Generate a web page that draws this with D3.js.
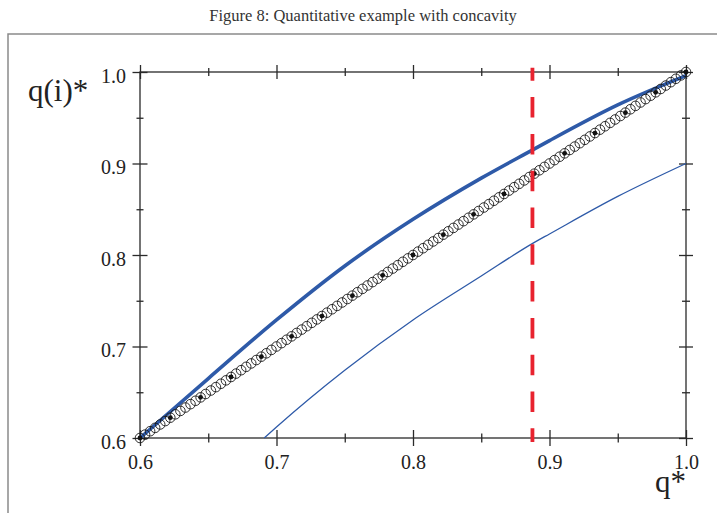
<!DOCTYPE html>
<html>
<head>
<meta charset="utf-8">
<script src="https://cdn.jsdelivr.net/npm/d3@7"></script>
<style>
html,body{margin:0;padding:0;background:#fff;}
svg{display:block;}
</style>
</head>
<body>
<script>
// ---- data ----
const titleText = "Figure 8: Quantitative example with concavity";
const xLabel = "q*";
const yLabel = "q(i)*";
const majorTicks = [0.6, 0.7, 0.8, 0.9, 1.0];
const minorTicks = [0.65, 0.75, 0.85, 0.95];
const tickLabels = ["0.6", "0.7", "0.8", "0.9", "1.0"];

// thick blue curve
const thickQ = [0.600, 0.650, 0.700, 0.750, 0.800, 0.850, 0.889, 0.900, 0.950, 1.000];
const thickV = [0.600, 0.665, 0.729, 0.788, 0.839, 0.884, 0.916, 0.925, 0.964, 0.996];

// thin blue curve
const thinQ = [0.691, 0.700, 0.750, 0.800, 0.850, 0.888, 0.900, 0.950, 1.000];
const thinV = [0.600, 0.612, 0.674, 0.729, 0.777, 0.813, 0.823, 0.864, 0.900];

// open circles (on the diagonal q(i)* = q*)
const circleQ = [
0.6000,0.6037,0.6074,0.6111,0.6148,0.6185,0.6222,0.6259,0.6296,0.6333,0.6370,0.6407,0.6444,0.6481,0.6519,0.6556,0.6593,0.6630,0.6667,0.6704,0.6741,0.6778,0.6815,0.6852,0.6889,0.6926,0.6963,
0.7000,0.7037,0.7074,0.7111,0.7148,0.7185,0.7222,0.7259,0.7296,0.7333,0.7370,0.7407,0.7444,0.7481,0.7519,0.7556,0.7593,0.7630,0.7667,0.7704,0.7741,0.7778,0.7815,0.7852,0.7889,0.7926,0.7963,
0.8000,0.8037,0.8074,0.8111,0.8148,0.8185,0.8222,0.8259,0.8296,0.8333,0.8370,0.8407,0.8444,0.8481,0.8519,0.8556,0.8593,0.8630,0.8667,0.8704,0.8741,0.8778,0.8815,0.8852,0.8889,0.8926,0.8963,
0.9000,0.9037,0.9074,0.9111,0.9148,0.9185,0.9222,0.9259,0.9296,0.9333,0.9370,0.9407,0.9444,0.9481,0.9519,0.9556,0.9593,0.9630,0.9667,0.9704,0.9741,0.9778,0.9815,0.9852,0.9889,0.9926,0.9963,
1.0000];
const circleV = circleQ.slice();

// filled dots
const dotQ = [0.6000,0.6222,0.6444,0.6667,0.6889,0.7111,0.7333,0.7556,0.7778,0.8000,0.8222,0.8444,0.8667,0.8889,0.9111,0.9333,0.9556,0.9778,1.0000];
const dotV = dotQ.slice();

// vertical dashed red line
const dashQ = [0.8875];
const dashV = [0.5955, 1.0046];

// ---- drawing ----
const W = 717, H = 513;
const svg = d3.select("body").append("svg").attr("width", W).attr("height", H);

// outer frame
svg.append("path")
  .attr("d", "M8,513 L8,34 L717,34")
  .attr("fill", "none").attr("stroke", "#8a8a8a").attr("stroke-width", 1.5);

svg.append("text")
  .attr("x", 363).attr("y", 21)
  .attr("text-anchor", "middle")
  .attr("font-family", "Liberation Serif, serif")
  .attr("font-size", 16.5)
  .attr("fill", "#333")
  .text(titleText);

const x = d3.scaleLinear().domain([0.6, 1.0]).range([140, 686]);
const y = d3.scaleLinear().domain([0.6, 1.0]).range([438, 72]);

const axisColor = "#2a2a2a";
const fmt = (d) => tickLabels[majorTicks.findIndex(t => Math.abs(t - d) < 1e-9)] || "";

function styleAxis(g, half, horizontal) {
  g.select(".domain").remove();
  g.selectAll(".tick line")
    .attr("stroke", axisColor).attr("stroke-width", 1.3)
    .each(function() {
      const l = d3.select(this);
      if (horizontal) l.attr("y1", -half).attr("y2", half);
      else l.attr("x1", -half).attr("x2", half);
    });
  g.selectAll(".tick text")
    .attr("font-family", "Liberation Serif, serif")
    .attr("font-size", 20)
    .attr("fill", "#222");
}

// frame rect of the plot
svg.append("rect")
  .attr("x", x(0.6)).attr("y", y(1.0))
  .attr("width", x(1.0) - x(0.6)).attr("height", y(0.6) - y(1.0))
  .attr("fill", "none").attr("stroke", axisColor).attr("stroke-width", 1.3);

// bottom axis (labels)
const gB = svg.append("g").attr("transform", `translate(0,${y(0.6)})`)
  .call(d3.axisBottom(x).tickValues(majorTicks).tickFormat(fmt).tickSize(8).tickPadding(0));
styleAxis(gB, 8, true);
gB.selectAll(".tick text").attr("dy", null).attr("y", 31);
const gBm = svg.append("g").attr("transform", `translate(0,${y(0.6)})`)
  .call(d3.axisBottom(x).tickValues(minorTicks).tickFormat("").tickSize(4));
styleAxis(gBm, 4.5, true);

// top axis
const gT = svg.append("g").attr("transform", `translate(0,${y(1.0)})`)
  .call(d3.axisTop(x).tickValues(majorTicks).tickFormat("").tickSize(7));
styleAxis(gT, 7, true);
const gTm = svg.append("g").attr("transform", `translate(0,${y(1.0)})`)
  .call(d3.axisTop(x).tickValues(minorTicks).tickFormat("").tickSize(4));
styleAxis(gTm, 4, true);

// left axis (labels)
const gL = svg.append("g").attr("transform", `translate(${x(0.6)},0)`)
  .call(d3.axisLeft(y).tickValues(majorTicks).tickFormat(fmt).tickSize(7).tickPadding(0));
styleAxis(gL, 7.5, false);
gL.selectAll(".tick text").attr("x", -14).attr("dy", "0.5em");
const gLm = svg.append("g").attr("transform", `translate(${x(0.6)},0)`)
  .call(d3.axisLeft(y).tickValues(minorTicks).tickFormat("").tickSize(4));
styleAxis(gLm, 3.5, false);

// right axis
const gR = svg.append("g").attr("transform", `translate(${x(1.0)},0)`)
  .call(d3.axisRight(y).tickValues(majorTicks).tickFormat("").tickSize(7));
styleAxis(gR, 7, false);
const gRm = svg.append("g").attr("transform", `translate(${x(1.0)},0)`)
  .call(d3.axisRight(y).tickValues(minorTicks).tickFormat("").tickSize(4));
styleAxis(gRm, 4, false);

// axis titles
svg.append("text").attr("x", 28).attr("y", 101)
  .attr("font-family", "Liberation Serif, serif").attr("font-size", 31)
  .attr("fill", "#222").text(yLabel);
svg.append("text").attr("x", 655).attr("y", 492)
  .attr("font-family", "Liberation Serif, serif").attr("font-size", 31)
  .attr("fill", "#222").text(xLabel);

const blue = "#2e5aa8";
const line = d3.line().curve(d3.curveMonotoneX);

// thin curve
svg.append("path")
  .attr("d", line(thinQ.map((q, i) => [x(q), y(thinV[i])])))
  .attr("fill", "none").attr("stroke", blue).attr("stroke-width", 1.3);

// thick curve
svg.append("path")
  .attr("d", line(thickQ.map((q, i) => [x(q), y(thickV[i])])))
  .attr("fill", "none").attr("stroke", blue).attr("stroke-width", 3.6);

// open circles
svg.append("g").selectAll("circle").data(circleQ).join("circle")
  .attr("cx", (d) => x(d)).attr("cy", (d, i) => y(circleV[i]))
  .attr("r", 4.8).attr("fill", "none").attr("stroke", "#1a1a1a").attr("stroke-width", 0.9);

// filled dots
svg.append("g").selectAll("circle").data(dotQ).join("circle")
  .attr("cx", (d) => x(d)).attr("cy", (d, i) => y(dotV[i]))
  .attr("r", 2.4).attr("fill", "#111");

// dashed red vertical line
svg.append("line")
  .attr("x1", x(dashQ[0])).attr("x2", x(dashQ[0]))
  .attr("y1", y(dashV[1])).attr("y2", y(dashV[0]))
  .attr("stroke", "#e8232f").attr("stroke-width", 3.8)
  .attr("stroke-dasharray", "20.5,16.3").attr("stroke-dashoffset", 7.5);
</script>
</body>
</html>
